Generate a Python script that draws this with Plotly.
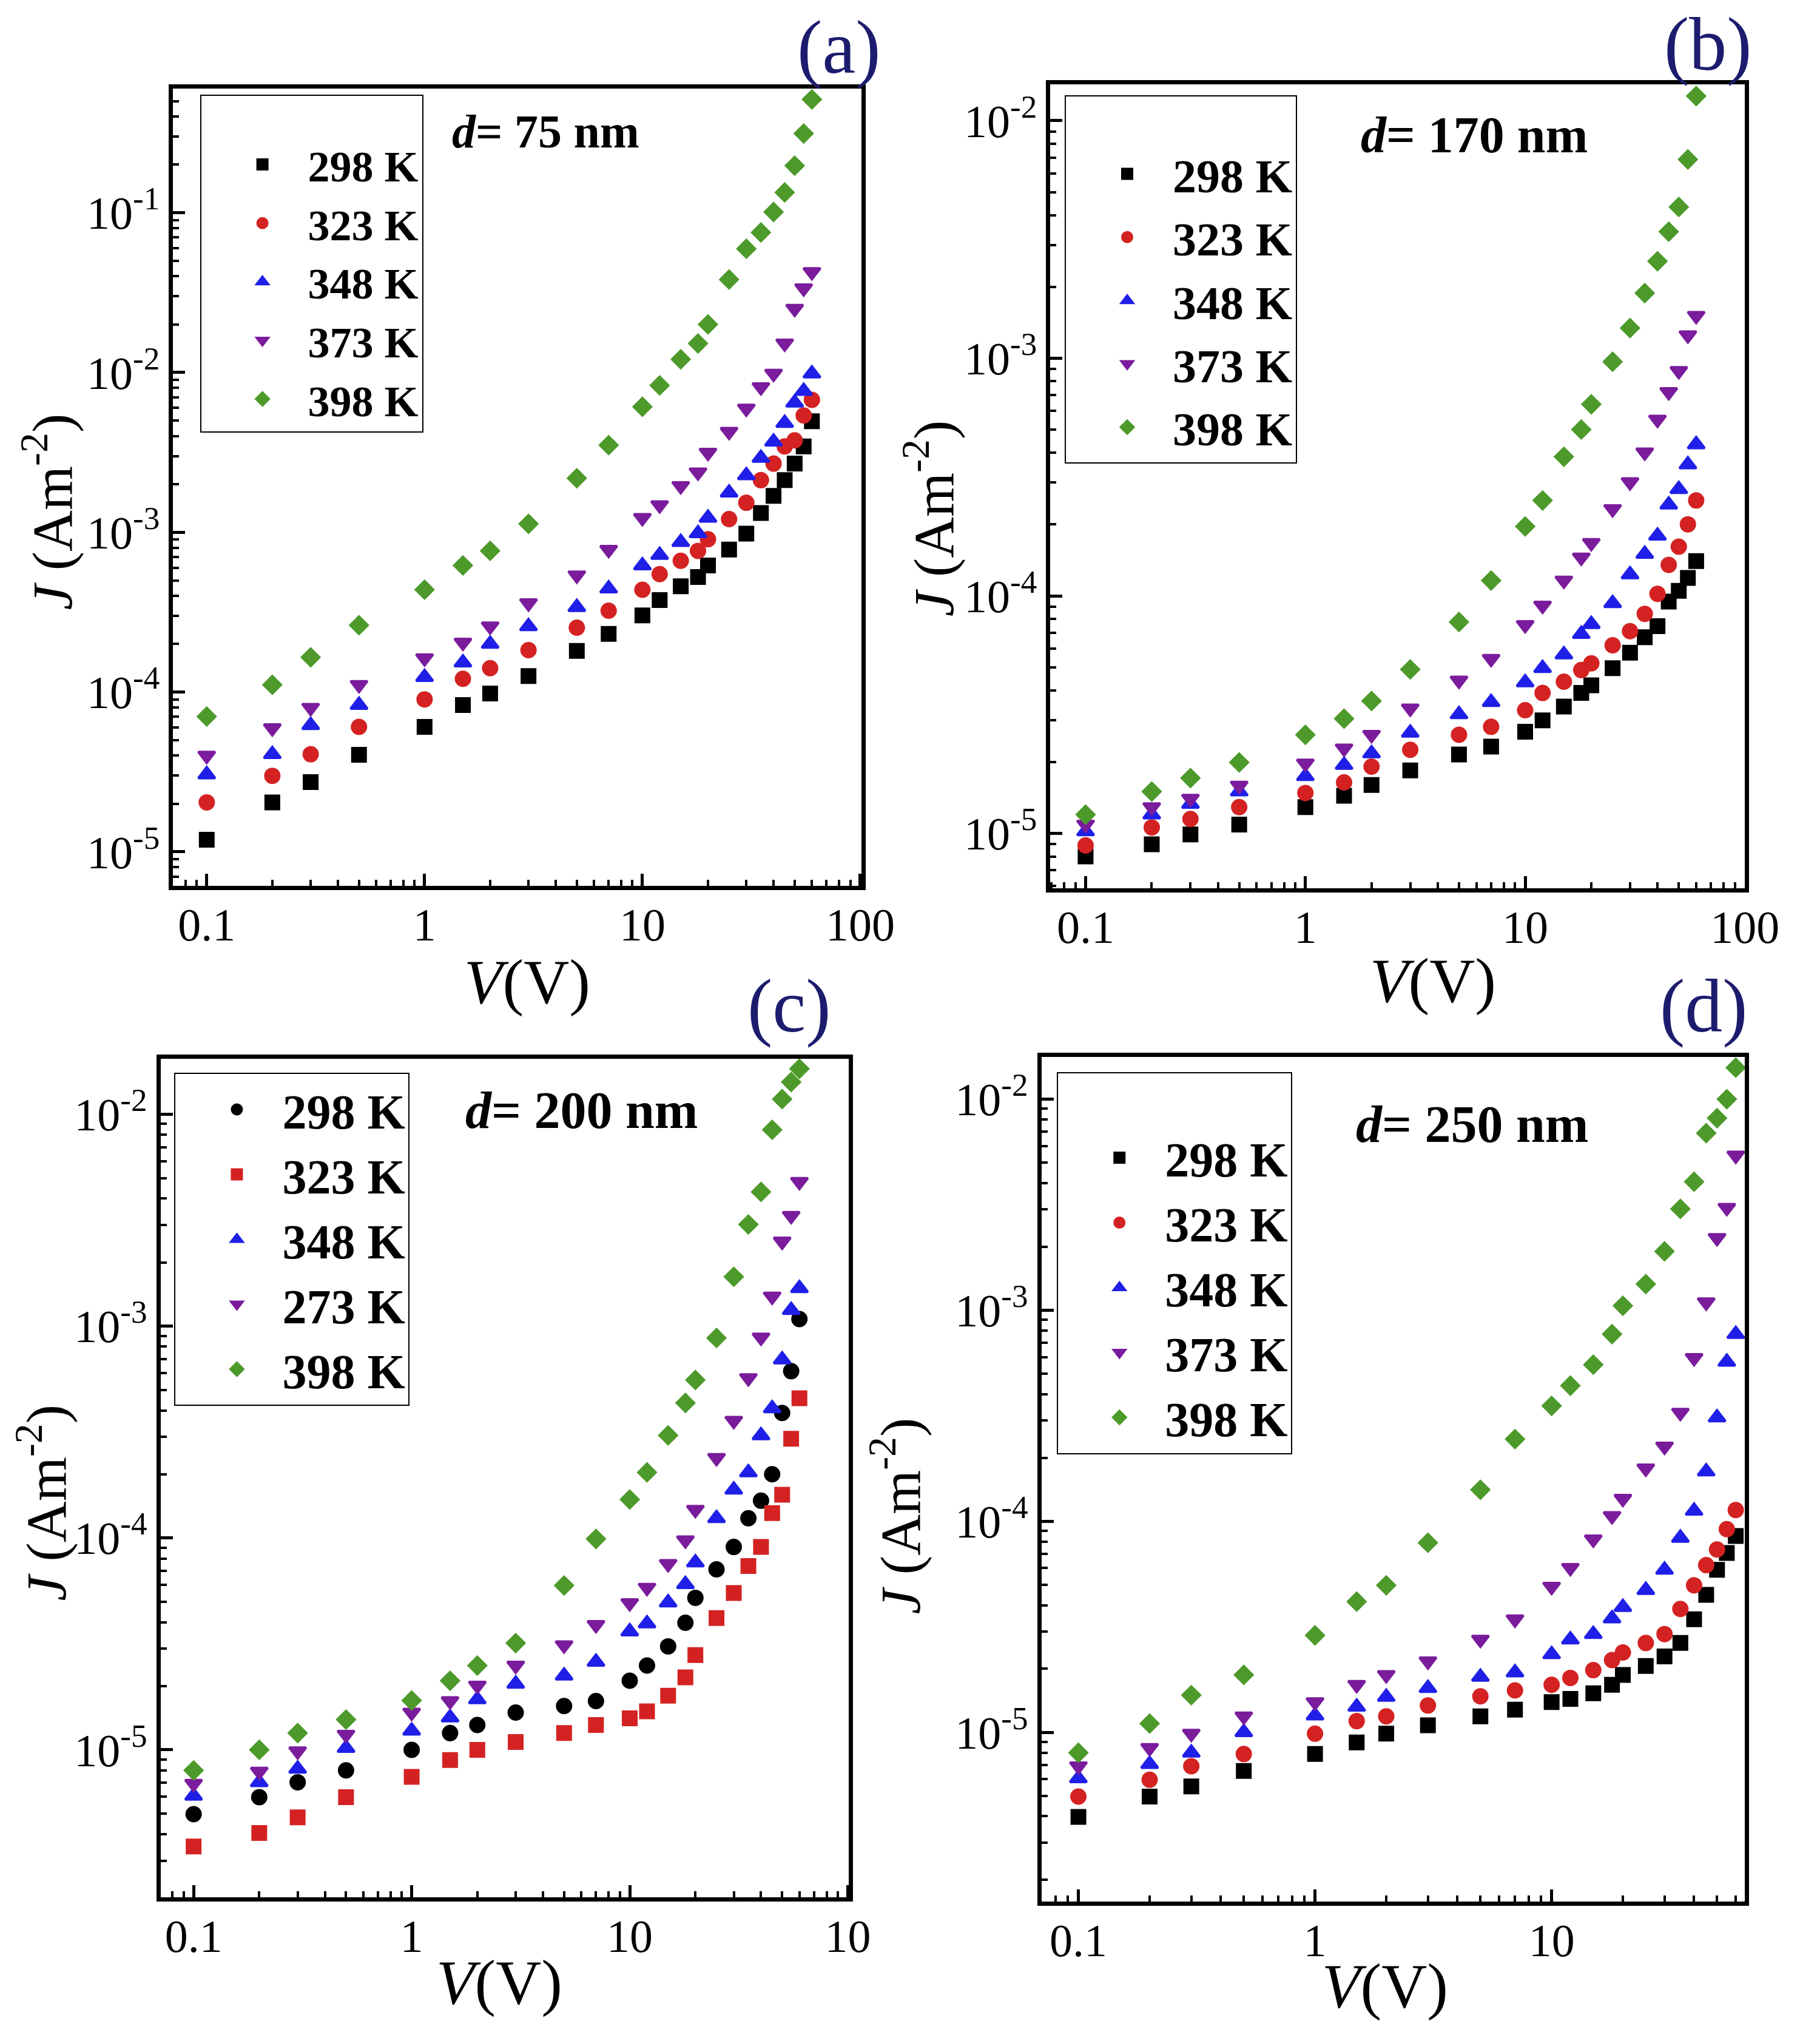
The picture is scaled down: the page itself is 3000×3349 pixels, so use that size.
import plotly.graph_objects as go

W, H = 3000, 3349
FONT = "Times New Roman, Liberation Serif, Tinos, serif"

# ---------------- data ----------------
V = [0.1, 0.2, 0.3, 0.5, 1, 1.5, 2, 3, 5, 7, 10, 12, 15, 18, 20, 25, 30, 35, 40, 45, 50, 55, 60]

# (a) d = 75 nm
A_298 = [1.19e-5, 2.04e-5, 2.73e-5, 4.05e-5, 6.05e-5, 8.3e-5, 9.8e-5, 1.26e-4, 1.81e-4, 2.31e-4, 3.02e-4, 3.76e-4,
         4.59e-4, 5.25e-4, 6.2e-4, 7.8e-4, 9.8e-4, 1.32e-3, 1.69e-3, 2.12e-3, 2.69e-3, 3.45e-3, 4.95e-3]
A_323 = [2.04e-5, 2.99e-5, 4.08e-5, 6.05e-5, 9.0e-5, 1.21e-4, 1.41e-4, 1.83e-4, 2.53e-4, 3.23e-4, 4.37e-4, 5.47e-4,
         6.63e-4, 7.65e-4, 9.04e-4, 1.21e-3, 1.53e-3, 2.12e-3, 2.69e-3, 3.45e-3, 3.76e-3, 5.38e-3, 6.75e-3]
A_348 = [3.05e-5, 4.08e-5, 6.2e-5, 8.3e-5, 1.24e-4, 1.53e-4, 2.0e-4, 2.58e-4, 3.4e-4, 4.44e-4, 6.2e-4, 7.2e-4,
         8.67e-4, 9.84e-4, 1.23e-3, 1.77e-3, 2.27e-3, 2.92e-3, 3.69e-3, 4.83e-3, 6.47e-3, 7.65e-3, 9.84e-3]
A_373 = [4.0e-5, 5.95e-5, 7.98e-5, 1.11e-4, 1.63e-4, 2.04e-4, 2.58e-4, 3.6e-4, 5.38e-4, 7.78e-4, 1.23e-3, 1.48e-3,
         1.95e-3, 2.37e-3, 3.15e-3, 4.26e-3, 5.95e-3, 8.1e-3, 9.84e-3, 1.52e-2, 2.51e-2, 3.37e-2, 4.26e-2]
A_398 = [7.03e-5, 1.11e-4, 1.65e-4, 2.62e-4, 4.37e-4, 6.2e-4, 7.65e-4, 1.13e-3, 2.18e-3, 3.51e-3, 6.1e-3, 8.3e-3,
         1.21e-2, 1.52e-2, 2.0e-2, 3.82e-2, 5.95e-2, 7.52e-2, 1.01e-1, 1.34e-1, 1.97e-1, 3.13e-1, 5.12e-1]

# (b) d = 170 nm
B_298 = [8.0e-6, 9.0e-6, 9.9e-6, 1.09e-5, 1.29e-5, 1.44e-5, 1.6e-5, 1.84e-5, 2.15e-5, 2.32e-5, 2.68e-5, 2.99e-5,
         3.42e-5, 3.9e-5, 4.2e-5, 4.96e-5, 5.76e-5, 6.69e-5, 7.45e-5, 9.46e-5, 1.05e-4, 1.19e-4, 1.4e-4]
B_323 = [8.9e-6, 1.06e-5, 1.15e-5, 1.29e-5, 1.48e-5, 1.64e-5, 1.91e-5, 2.25e-5, 2.6e-5, 2.81e-5, 3.3e-5, 3.9e-5,
         4.35e-5, 4.87e-5, 5.2e-5, 6.19e-5, 7.1e-5, 8.4e-5, 1.02e-4, 1.35e-4, 1.61e-4, 2.0e-4, 2.52e-4]
B_348 = [1.02e-5, 1.2e-5, 1.33e-5, 1.5e-5, 1.74e-5, 1.94e-5, 2.17e-5, 2.65e-5, 3.17e-5, 3.57e-5, 4.32e-5, 4.96e-5,
         5.66e-5, 6.9e-5, 7.6e-5, 9.3e-5, 1.23e-4, 1.5e-4, 1.79e-4, 2.42e-4, 2.81e-4, 3.57e-4, 4.34e-4]
B_373 = [1.09e-5, 1.29e-5, 1.4e-5, 1.59e-5, 1.97e-5, 2.28e-5, 2.6e-5, 3.36e-5, 4.4e-5, 5.43e-5, 7.54e-5, 9.1e-5,
         1.16e-4, 1.45e-4, 1.67e-4, 2.32e-4, 3.01e-4, 4.02e-4, 5.52e-4, 7.21e-4, 8.85e-4, 1.25e-3, 1.51e-3]
B_398 = [1.2e-5, 1.5e-5, 1.71e-5, 1.99e-5, 2.6e-5, 3.04e-5, 3.61e-5, 4.9e-5, 7.76e-5, 1.16e-4, 1.96e-4, 2.52e-4,
         3.85e-4, 5.01e-4, 6.4e-4, 9.67e-4, 1.34e-3, 1.88e-3, 2.56e-3, 3.41e-3, 4.33e-3, 6.87e-3, 1.27e-2]

# (c) d = 200 nm
C_298 = [4.97e-6, 5.98e-6, 7.03e-6, 8.0e-6, 1.0e-5, 1.2e-5, 1.31e-5, 1.5e-5, 1.61e-5, 1.7e-5, 2.12e-5, 2.5e-5,
         3.08e-5, 3.98e-5, 5.22e-5, 7.11e-5, 9.07e-5, 1.24e-4, 1.5e-4, 2.0e-4, 3.89e-4, 6.13e-4, 1.08e-3]
C_323 = [3.5e-6, 4.05e-6, 4.8e-6, 5.98e-6, 7.45e-6, 8.95e-6, 1.0e-5, 1.09e-5, 1.2e-5, 1.31e-5, 1.41e-5, 1.52e-5,
         1.8e-5, 2.2e-5, 2.8e-5, 4.19e-5, 5.5e-5, 7.38e-5, 9.07e-5, 1.31e-4, 1.6e-4, 2.94e-4, 4.57e-4]
C_348 = [6.07e-6, 7.03e-6, 8.14e-6, 1.02e-5, 1.23e-5, 1.42e-5, 1.73e-5, 2.05e-5, 2.24e-5, 2.6e-5, 3.62e-5, 3.95e-5,
         4.96e-5, 6.05e-5, 7.66e-5, 1.24e-4, 1.69e-4, 2.04e-4, 3.05e-4, 4.09e-4, 6.95e-4, 1.19e-3, 1.51e-3]
C_273 = [6.92e-6, 7.9e-6, 9.85e-6, 1.18e-5, 1.5e-5, 1.7e-5, 2.01e-5, 2.5e-5, 3.12e-5, 3.89e-5, 4.93e-5, 5.83e-5,
         7.55e-5, 9.76e-5, 1.36e-4, 2.39e-4, 3.58e-4, 5.69e-4, 8.85e-4, 1.38e-3, 2.51e-3, 3.32e-3, 4.8e-3]
C_398 = [8.0e-6, 1.0e-5, 1.2e-5, 1.39e-5, 1.71e-5, 2.12e-5, 2.5e-5, 3.19e-5, 5.97e-5, 9.9e-5, 1.52e-4, 2.04e-4,
         3.05e-4, 4.34e-4, 5.57e-4, 8.79e-4, 1.71e-3, 3.02e-3, 4.3e-3, 8.45e-3, 1.18e-2, 1.42e-2, 1.64e-2]

# (d) d = 250 nm
D_298 = [3.97e-6, 4.96e-6, 5.54e-6, 6.56e-6, 7.89e-6, 8.95e-6, 9.85e-6, 1.08e-5, 1.19e-5, 1.28e-5, 1.39e-5, 1.44e-5,
         1.53e-5, 1.68e-5, 1.87e-5, 2.06e-5, 2.29e-5, 2.65e-5, 3.43e-5, 4.48e-5, 5.89e-5, 7.08e-5, 8.52e-5]
D_323 = [4.96e-6, 5.96e-6, 6.91e-6, 7.89e-6, 9.85e-6, 1.13e-5, 1.19e-5, 1.34e-5, 1.48e-5, 1.58e-5, 1.68e-5, 1.81e-5,
         1.97e-5, 2.2e-5, 2.39e-5, 2.65e-5, 2.92e-5, 3.84e-5, 4.97e-5, 6.2e-5, 7.35e-5, 9.17e-5, 1.13e-4]
D_348 = [6.05e-6, 7.07e-6, 8.0e-6, 1.0e-5, 1.2e-5, 1.32e-5, 1.47e-5, 1.62e-5, 1.83e-5, 1.92e-5, 2.34e-5, 2.75e-5,
         2.92e-5, 3.46e-5, 3.92e-5, 4.72e-5, 5.89e-5, 8.34e-5, 1.12e-4, 1.72e-4, 3.1e-4, 5.69e-4, 7.7e-4]
D_373 = [6.91e-6, 8.44e-6, 9.85e-6, 1.19e-5, 1.39e-5, 1.68e-5, 1.87e-5, 2.17e-5, 2.75e-5, 3.43e-5, 4.9e-5, 6.02e-5,
         8.21e-5, 1.06e-4, 1.28e-4, 1.78e-4, 2.26e-4, 3.27e-4, 5.94e-4, 1.09e-3, 2.2e-3, 3.06e-3, 5.41e-3]
D_398 = [8.0e-6, 1.1e-5, 1.5e-5, 1.87e-5, 2.88e-5, 4.16e-5, 4.97e-5, 7.91e-5, 1.41e-4, 2.45e-4, 3.52e-4, 4.39e-4,
         5.52e-4, 7.7e-4, 1.05e-3, 1.33e-3, 1.9e-3, 3.02e-3, 4.06e-3, 6.9e-3, 8.13e-3, 1.0e-2, 1.41e-2]

X_TICKVALS = [0.1, 1, 10, 100]
X_TICKTEXT = ["0.1", "1", "10", "100"]
X_TICKTEXT_C = ["0.1", "1", "10", "10"]
Y_TICKVALS = [1e-5, 1e-4, 1e-3, 1e-2, 1e-1]
Y_TICKTEXT = ["10<sup>-5</sup>", "10<sup>-4</sup>", "10<sup>-3</sup>", "10<sup>-2</sup>", "10<sup>-1</sup>"]

BLACK, RED, BLUE, PURPLE, GREEN = "#000000", "#d42222", "#1f1fe8", "#7a1c9c", "#4d9a2b"
NAVY = "#1c1c6e"
SIZES = {"square": 22, "circle": 23, "triangle-up": 24, "triangle-down": 24, "diamond": 22}
EDGE = 4

# ---------------- layout helpers ----------------
def fx(x):
    return x / W


def fy(y):
    return 1 - y / H


panels = [
    dict(series=[("298 K", A_298, "square", BLACK), ("323 K", A_323, "circle", RED),
                 ("348 K", A_348, "triangle-up", BLUE), ("373 K", A_373, "triangle-down", PURPLE),
                 ("398 K", A_398, "diamond", GREEN)],
         box=(291, 1448, 146, 1460), xr=[-1.154, 2.007], yr=[-5.213, -0.223], xtt=X_TICKTEXT,
         legend=(336, 156), lfont=72, ltitle=46,
         dtext="<b><i>d</i>= 75 nm</b>", dpos=(917, 216), dsize=78,
         label="(a)", lpos=(1410, 78),
         ytitle=(80, 843), xtitle=(886, 1618)),
    dict(series=[("298 K", B_298, "square", BLACK), ("323 K", B_323, "circle", RED),
                 ("348 K", B_348, "triangle-up", BLUE), ("373 K", B_373, "triangle-down", PURPLE),
                 ("398 K", B_398, "diamond", GREEN)],
         box=(1765, 2932, 139, 1464), xr=[-1.16, 2.0], yr=[-5.231, -1.847], xtt=X_TICKTEXT,
         legend=(1789, 157), lfont=78, ltitle=54,
         dtext="<b><i>d</i>= 170 nm</b>", dpos=(2478, 222), dsize=84,
         label="(b)", lpos=(2870, 74),
         ytitle=(1561, 854), xtitle=(2408, 1616)),
    dict(series=[("298 K", C_298, "circle", BLACK), ("323 K", C_323, "square", RED),
                 ("348 K", C_348, "triangle-up", BLUE), ("273 K", C_273, "triangle-down", PURPLE),
                 ("398 K", C_398, "diamond", GREEN)],
         box=(270, 1426, 1745, 3127), xr=[-1.151, 2.004], yr=[-5.696, -1.738], xtt=X_TICKTEXT_C,
         legend=(293, 1768), lfont=80, ltitle=None,
         dtext="<b><i>d</i>= 200 nm</b>", dpos=(977, 1830), dsize=86,
         label="(c)", lpos=(1326, 1658),
         ytitle=(70, 2477), xtitle=(839, 3267)),
    dict(series=[("298 K", D_298, "square", BLACK), ("323 K", D_323, "circle", RED),
                 ("348 K", D_348, "triangle-up", BLUE), ("373 K", D_373, "triangle-down", PURPLE),
                 ("398 K", D_398, "diamond", GREEN)],
         box=(1750, 2932, 1742, 3134), xr=[-1.156, 1.817], yr=[-5.802, -1.8], xtt=X_TICKTEXT,
         legend=(1776, 1767), lfont=80, ltitle=62,
         dtext="<b><i>d</i>= 250 nm</b>", dpos=(2473, 1853), dsize=86,
         label="(d)", lpos=(2863, 1658),
         ytitle=(1505, 2498), xtitle=(2327, 3273)),
]

MINOR_VALS = [m * 10.0 ** e for e in range(-7, 3) for m in range(2, 10)]

fig = go.Figure()
layout = dict(width=W, height=H, margin=dict(l=0, r=0, t=0, b=0, pad=0),
              paper_bgcolor="white", plot_bgcolor="white", showlegend=True,
              font=dict(family=FONT, color="black"))
annotations = []

for i, p in enumerate(panels):
    n = "" if i == 0 else str(i + 1)
    xa, ya = "x" + n, "y" + n
    lg = "legend" + n
    for name, vals, sym, col in p["series"]:
        fig.add_trace(go.Scatter(x=V, y=vals, mode="markers", name=name,
                                 marker=dict(symbol=sym, size=SIZES[sym], color=col,
                                             line=dict(width=EDGE, color=col)),
                                 xaxis=xa, yaxis=ya, legend=lg, showlegend=True))
    x0, x1, y0, y1 = p["box"]
    axis_common = dict(type="log", showline=True, linewidth=7, linecolor="black", mirror=True,
                       ticks="inside", ticklen=20, tickwidth=5, tickcolor="black",
                       showgrid=False, zeroline=False,
                       tickfont=dict(family=FONT, size=76, color="black"),
                       minor=dict(ticks="inside", ticklen=10, tickwidth=4, tickcolor="black",
                                  showgrid=False, tickmode="array", tickvals=MINOR_VALS))
    layout["xaxis" + n] = dict(axis_common, domain=[fx(x0), fx(x1)], range=p["xr"], anchor=ya,
                               tickmode="array", tickvals=X_TICKVALS, ticktext=p["xtt"],
                               ticklabelstandoff=-8)
    layout["yaxis" + n] = dict(axis_common, domain=[fy(y1), fy(y0)], range=p["yr"], anchor=xa,
                               tickmode="array", tickvals=Y_TICKVALS, ticktext=Y_TICKTEXT)
    lx, ly = p["legend"]
    leg = dict(x=fx(lx), y=fy(ly), xanchor="left", yanchor="top", xref="paper", yref="paper",
               bgcolor="white", bordercolor="black", borderwidth=2, itemwidth=140, indentation=26,
               font=dict(family=FONT, size=p["lfont"], color="black", weight="bold"),
               itemclick=False, itemdoubleclick=False)
    if p["ltitle"]:
        leg["title"] = dict(text="\u00a0", font=dict(family=FONT, size=p["ltitle"]))
    layout[lg] = leg

    annotations.append(dict(text=p["dtext"], x=fx(p["dpos"][0]), y=fy(p["dpos"][1]), xref="paper", yref="paper",
                            showarrow=False, xanchor="center", yanchor="middle",
                            font=dict(family=FONT, size=p["dsize"], color="black")))
    annotations.append(dict(text=p["label"], x=fx(p["lpos"][0]), y=fy(p["lpos"][1]), xref="paper", yref="paper",
                            showarrow=False, xanchor="center", yanchor="middle",
                            font=dict(family=FONT, size=124, color=NAVY)))
    annotations.append(dict(text="<i>J</i> (Am<sup>-2</sup>)", x=fx(p["ytitle"][0]), y=fy(p["ytitle"][1]),
                            xref="paper", yref="paper", showarrow=False, textangle=-90,
                            xanchor="center", yanchor="middle",
                            font=dict(family=FONT, size=94, color="black")))
    annotations.append(dict(text="<i>V</i>(V)", x=fx(p["xtitle"][0]), y=fy(p["xtitle"][1]),
                            xref="paper", yref="paper", showarrow=False,
                            xanchor="center", yanchor="middle",
                            font=dict(family=FONT, size=104, color="black")))

layout["annotations"] = annotations
fig.update_layout(**layout)
fig.write_html("out.html")
